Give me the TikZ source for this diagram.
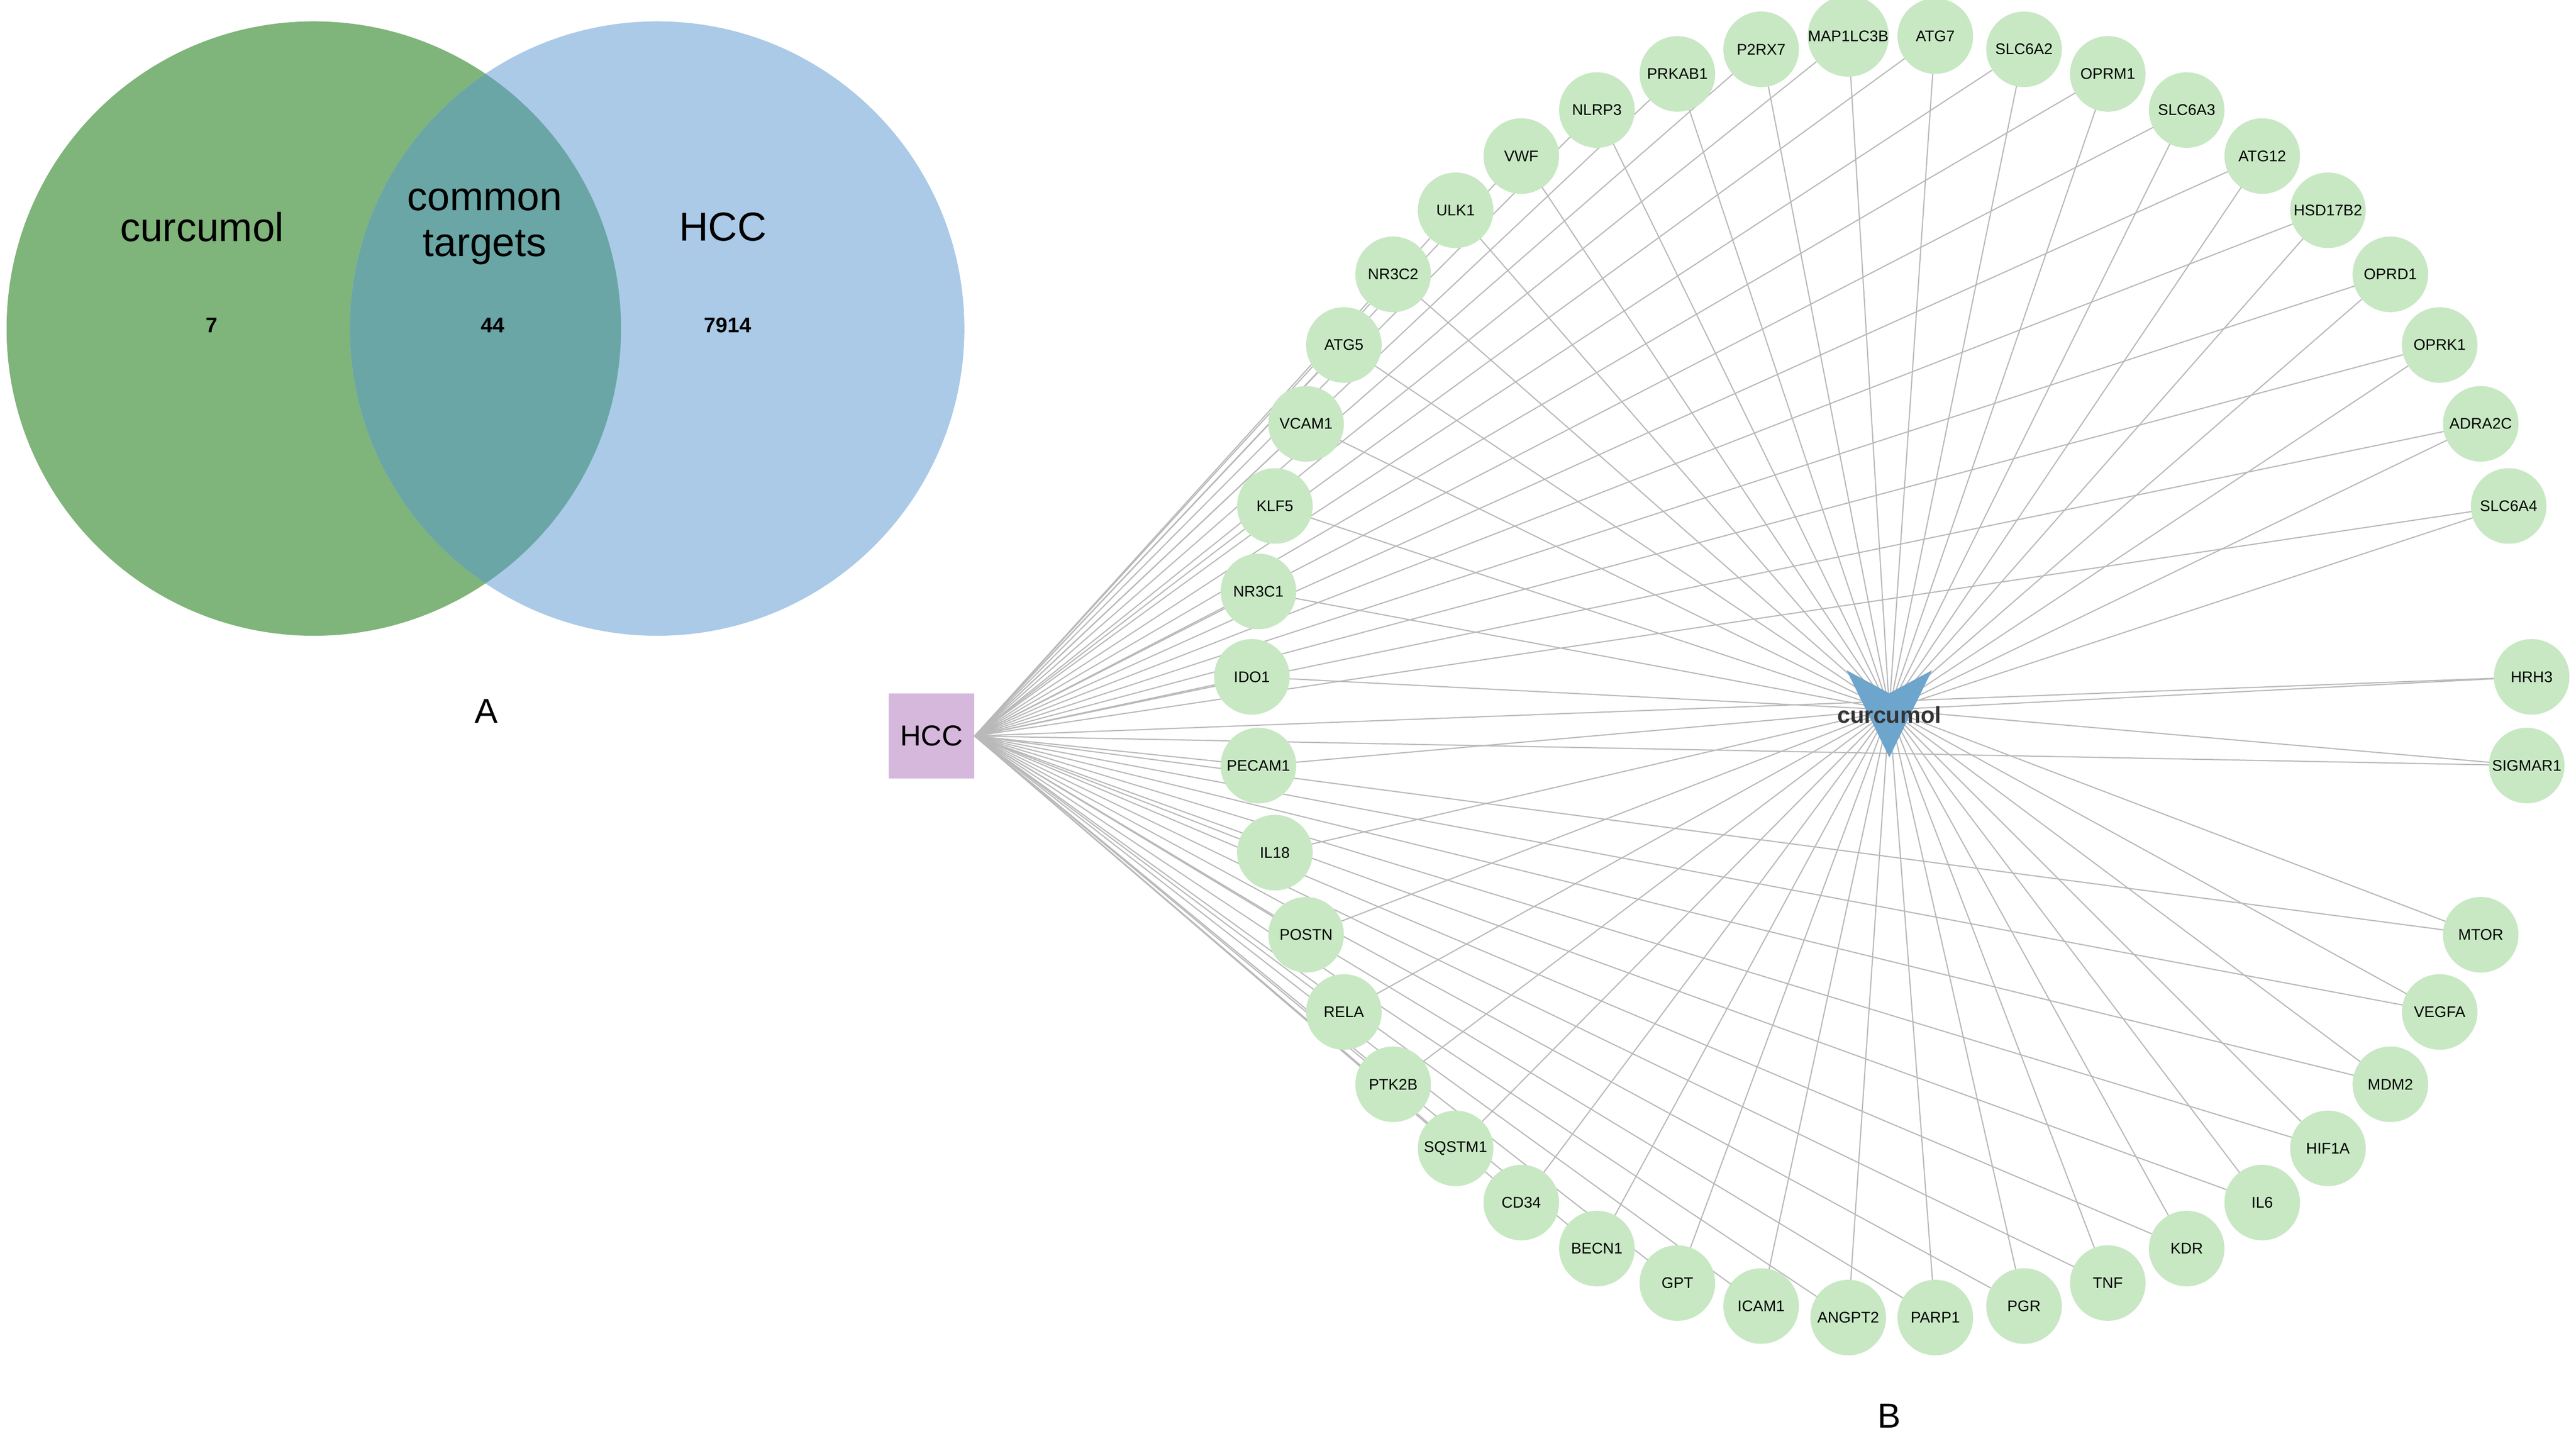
\documentclass[tikz,border=0pt]{standalone}
\usepackage{fontspec}
\setmainfont{Liberation Sans}
\begin{document}
\begin{tikzpicture}[x=0.03cm,y=-0.03cm,
  gene/.style={circle,fill=genegreen,minimum size=1.38cm,inner sep=0pt,font=\fontsize{8}{9}\selectfont},
  edge/.style={draw=gray!55,line width=0.6pt},
  vlabel/.style={font=\fontsize{21}{24}\selectfont,align=center},
  vnum/.style={font=\bfseries\fontsize{11}{12}\selectfont}]
\definecolor{genegreen}{RGB}{200,232,196}
\definecolor{vgreen}{RGB}{127,180,122}
\definecolor{vblue}{RGB}{170,202,231}
\definecolor{vteal}{RGB}{106,166,166}
\definecolor{hccpink}{RGB}{213,184,220}
\definecolor{curblue}{RGB}{110,165,205}
\useasboundingbox[fill=white] (0,0) rectangle (1568,877);
% Venn
\fill[vgreen] (191,200) circle[radius=187*0.03cm];
\fill[vblue] (400,200) circle[radius=187*0.03cm];
\begin{scope}
\clip (191,200) circle[radius=187*0.03cm];
\fill[vteal] (400,200) circle[radius=187*0.03cm];
\end{scope}
\node[vlabel] (lc) at (123,138) {curcumol};
\node[vlabel] (lm) at (295,138) {common\\targets};
\node[vlabel] (lh) at (440,138) {HCC};
\node[vnum] (n7) at (129,198) {7};
\node[vnum] (n44) at (300,198) {44};
\node[vnum] (n7914) at (443,198) {7914};
\node[font=\fontsize{18}{20}\selectfont] (A) at (296,433) {A};
\node[font=\fontsize{18}{20}\selectfont] (B) at (1150,862) {B};
% network hubs
\node[fill=hccpink,minimum size=1.56cm,inner sep=0pt,font=\fontsize{15}{16}\selectfont] (hcc) at (567,448) {HCC};
\coordinate (cur) at (1150,432);
\foreach \n/\x/\y in {ATG5/818/210,VCAM1/795/258,KLF5/776/308,NR3C1/766/360,IDO1/762/412,PECAM1/766/466,IL18/776/519,POSTN/795/569,RELA/818/616,PTK2B/848/660,SQSTM1/886/699,CD34/926/732,BECN1/972/760,GPT/1021/781,ICAM1/1072/795,ANGPT2/1125/802,PARP1/1178/802,PGR/1232/795,TNF/1283/781,KDR/1331/760,IL6/1377/732,HIF1A/1417/699,MDM2/1455/660,VEGFA/1485/616,MTOR/1510/569,SIGMAR1/1538/466,HRH3/1541/412,SLC6A4/1527/308,ADRA2C/1510/258,OPRK1/1485/210,OPRD1/1455/167,HSD17B2/1417/128,ATG12/1377/95,SLC6A3/1331/67,OPRM1/1283/45,SLC6A2/1232/30,ATG7/1178/22,MAP1LC3B/1125/22,P2RX7/1072/30,PRKAB1/1021/45,NLRP3/972/67,VWF/926/95,ULK1/886/128,NR3C2/848/167}{
  \coordinate (p\n) at (\x,\y);
  \draw[edge] (hcc.east) -- (p\n);
  \draw[edge] (cur) -- (p\n);
}
\foreach \n/\x/\y in {ATG5/818/210,VCAM1/795/258,KLF5/776/308,NR3C1/766/360,IDO1/762/412,PECAM1/766/466,IL18/776/519,POSTN/795/569,RELA/818/616,PTK2B/848/660,SQSTM1/886/699,CD34/926/732,BECN1/972/760,GPT/1021/781,ICAM1/1072/795,ANGPT2/1125/802,PARP1/1178/802,PGR/1232/795,TNF/1283/781,KDR/1331/760,IL6/1377/732,HIF1A/1417/699,MDM2/1455/660,VEGFA/1485/616,MTOR/1510/569,SIGMAR1/1538/466,HRH3/1541/412,SLC6A4/1527/308,ADRA2C/1510/258,OPRK1/1485/210,OPRD1/1455/167,HSD17B2/1417/128,ATG12/1377/95,SLC6A3/1331/67,OPRM1/1283/45,SLC6A2/1232/30,ATG7/1178/22,MAP1LC3B/1125/22,P2RX7/1072/30,PRKAB1/1021/45,NLRP3/972/67,VWF/926/95,ULK1/886/128,NR3C2/848/167}{
  \node[gene] (\n) at (\x,\y) {\n};
}
\node[fill=hccpink,minimum size=1.56cm,inner sep=0pt,font=\fontsize{15}{16}\selectfont] at (567,448) {HCC};
\fill[curblue] (1124,408) -- (1150,422) -- (1176,408) -- (1150,461) -- cycle;
\node[font=\bfseries\fontsize{12}{13}\selectfont,text=black!80] (curlab) at (1150,435) {curcumol};
\end{tikzpicture}
\end{document}
